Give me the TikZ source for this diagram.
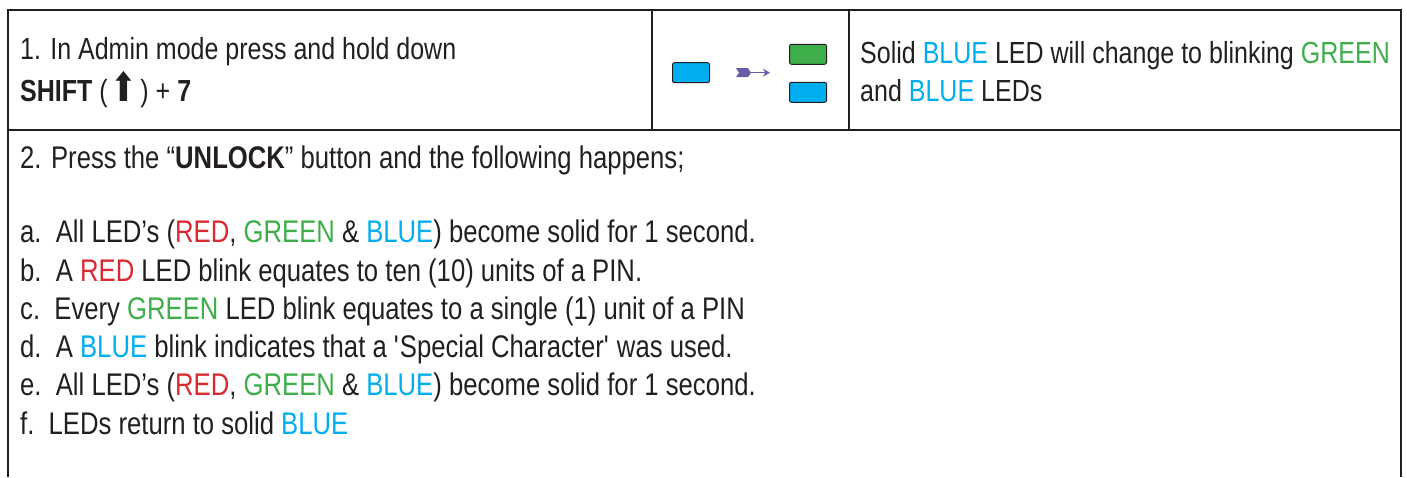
\documentclass[tikz,border=0pt]{standalone}
\usepackage{fontspec}
\setmainfont[FakeStretch=0.82]{Liberation Sans}
\newfontfamily\symfont{DejaVu Sans}
\usetikzlibrary{arrows.meta,positioning}
\definecolor{ledblue}{HTML}{00AEEF}
\definecolor{ledgreen}{HTML}{3DAE49}
\definecolor{ledred}{HTML}{DA2A31}
\definecolor{ink}{HTML}{231F20}
\definecolor{flowpurple}{HTML}{6A5BA8}
\tikzset{
	rule/.style={draw=ink, line width=2.6pt},
	led/.style={draw=ink, line width=1pt, rounded corners=2pt,
			minimum width=37pt, minimum height=20pt, inner sep=0pt},
	cell/.style={anchor=base west, inner sep=0pt, text=ink,
			font=\fontsize{30.5}{38}\selectfont},
	item/.style={cell, font=\fontsize{31.3}{38}\selectfont}
}
\newcommand{\red}[1]{\textcolor{ledred}{#1}}
\newcommand{\green}[1]{\textcolor{ledgreen}{#1}}
\newcommand{\blue}[1]{\textcolor{ledblue}{#1}}
\newcommand{\shiftkey}{{\symfont\fontsize{40}{40}\selectfont\hspace{-4pt}\scalebox{0.8}[1]{⬆}\hspace{-4pt}}}

\begin{document}
\begin{tikzpicture}[x=1pt,y=-1pt]
		\useasboundingbox (0,0) rectangle (1407,477);
		% Draw the table rules
		\draw[rule] (8,477) -- (8,10) -- (1401,10) -- (1401,477);
		\draw[rule] (8,130) -- (1401,130);
		\draw[rule] (652,10) -- (652,130);
		\draw[rule] (849,10) -- (849,130);
		% Draw the first row
		\node[cell] (stepA) at (20,59) {1. In Admin mode press and hold down};
		\node[cell] (stepB) at (20,101) {\textbf{SHIFT} ( \shiftkey\ ) + \textbf{7}};
		\node[led, fill=ledblue] (ledold) at (691,72.7) {};
		\node[led, fill=ledgreen] (ledgreen) at (808,54.3) {};
		\node[led, fill=ledblue] (ledblue) at (808,92.3) {};
		% Draw the change arrow
		\coordinate (tail) at (736,72.7);
		\coordinate (head) at (770,72.7);
		\fill[flowpurple] (tail) ++(0,-4.5) -- ++(12,0) -- ++(3,4.5) -- ++(-3,4.5) -- ++(-12,0) -- ++(3,-4.5) -- cycle;
		\draw[flowpurple, line width=1.2pt, -{Stealth[length=7pt,width=8pt]}] ([xshift=15pt]tail) -- (head);
		\node[cell] (resultA) at (860,63) {Solid \blue{BLUE} LED will change to blinking \green{GREEN}};
		\node[cell] (resultB) at (860,101) {and \blue{BLUE} LEDs};
		% Draw the second row
		\node[item] (press) at (20,168) {2. Press the “\textbf{UNLOCK}” button and the following happens;};
		\node[item] (itemA) at (20,242) {a.\ \ All LED’s (\red{RED}, \green{GREEN} \& \blue{BLUE}) become solid for 1 second.};
		\node[item] (itemB) at (20,281) {b.\ \ A \red{RED} LED blink equates to ten (10) units of a PIN.};
		\node[item] (itemC) at (20,319) {c.\ \ Every \green{GREEN} LED blink equates to a single (1) unit of a PIN};
		\node[item] (itemD) at (20,357) {d.\ \ A \blue{BLUE} blink indicates that a \textquotesingle Special Character\textquotesingle\ was used.};
		\node[item] (itemE) at (20,395) {e.\ \ All LED’s (\red{RED}, \green{GREEN} \& \blue{BLUE}) become solid for 1 second.};
		\node[item] (itemF) at (20,434) {f.\ \ LEDs return to solid \blue{BLUE}};
	\end{tikzpicture}
\end{document}
